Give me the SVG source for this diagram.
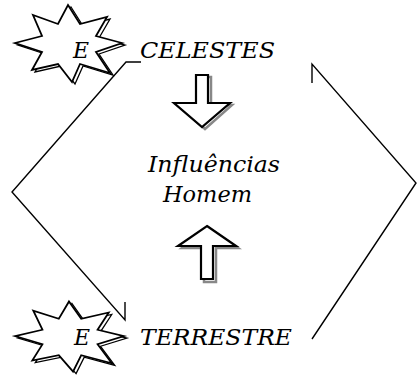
<svg xmlns="http://www.w3.org/2000/svg" width="417" height="379" viewBox="0 0 417 379">
<style>
.lbl{font-family:"DejaVu Serif","Liberation Serif",serif;font-style:italic;fill:#000}
.ln{fill:none;stroke:#000;stroke-width:1.4}
.starS{fill:none;stroke:#000;stroke-width:1.3}
.starM{fill:#fff;stroke:#000;stroke-width:1.8;stroke-linejoin:miter}
.arS{fill:none;stroke:#888;stroke-width:2.5}
.arM{fill:#fff;stroke:#000;stroke-width:2.2;stroke-linejoin:miter}
</style>
<defs>
<path id="star" d="M-1,-39 L11,-20 L38,-27 L27,-8 L53,-1 L27,8 L41,29 L11,20 L3,38 L-11,20 L-37,26 L-27,8 L-54,-1 L-27,-8 L-36,-29 L-11,-20 Z"/>
</defs>
<g id="connectors">
<polyline class="ln" points="141,62 126,62 12,192 125,320 125,302"/>
<polyline class="ln" points="312,83 312,64 416,183 312,339"/>
</g>
<g id="star-top">
<use href="#star" class="starS" transform="translate(72,46)"/>
<use href="#star" class="starM" transform="translate(69,44)"/>
<text class="lbl" x="81" y="58" font-size="22" text-anchor="middle">E</text>
</g>
<g id="celestes">
<text class="lbl" x="140" y="58" font-size="22" textLength="135" lengthAdjust="spacingAndGlyphs">CELESTES</text>
</g>
<g id="arrow-down">
<path class="arS" d="M199,77 H211 V105 H232 L205,129 L178,105 H199 Z"/>
<path class="arM" d="M196,75 H208 V103 H230 L202,127 L174,103 H196 Z"/>
</g>
<g id="center">
<text class="lbl" x="148" y="172" font-size="22" textLength="132" lengthAdjust="spacingAndGlyphs">Influências</text>
<text class="lbl" x="163" y="202" font-size="22" textLength="89" lengthAdjust="spacingAndGlyphs">Homem</text>
</g>
<g id="arrow-up">
<path class="arS" d="M209,228 L238,248 H216 V282 H204 V248 H182 Z"/>
<path class="arM" d="M207,226 L236,246 H213 V279 H201 V246 H178 Z"/>
</g>
<g id="star-bottom">
<use href="#star" class="starS" transform="translate(73,339) scale(1.02,0.91)"/>
<use href="#star" class="starM" transform="translate(70,337) scale(1.02,0.91)"/>
<text class="lbl" x="82" y="345" font-size="22" text-anchor="middle">E</text>
</g>
<g id="terrestre">
<text class="lbl" x="140" y="345" font-size="22" textLength="152" lengthAdjust="spacingAndGlyphs">TERRESTRE</text>
</g>
</svg>
